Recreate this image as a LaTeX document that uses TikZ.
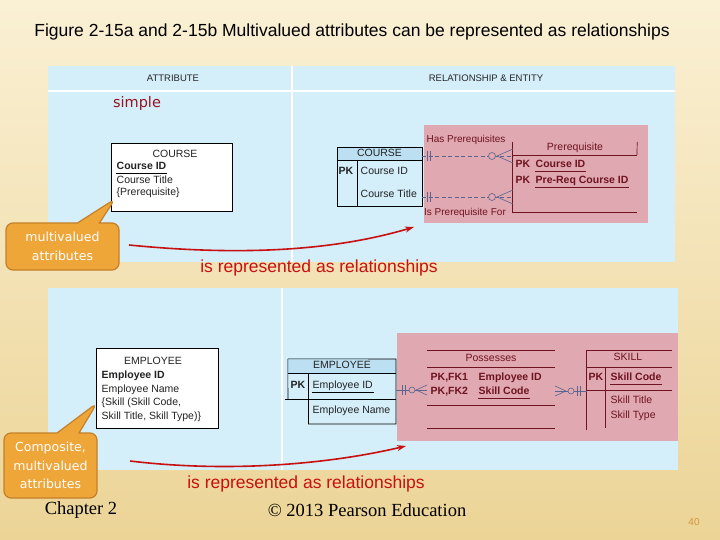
\documentclass[tikz,border=0pt]{standalone}
\usepackage{fontspec}
\setmainfont{Liberation Sans}
\newfontfamily\verdanafont{DejaVu Sans}
\newfontfamily\timesfont{Liberation Serif}
\usetikzlibrary{arrows.meta,shapes.callouts}

\definecolor{bgtop}{RGB}{250,240,212}
\definecolor{bgbottom}{RGB}{236,212,150}
\definecolor{paneblue}{RGB}{212,238,250}
\definecolor{hdrblue}{RGB}{188,224,242}
\definecolor{pinkarea}{RGB}{224,168,176}
\definecolor{pkred}{RGB}{110,20,32}
\definecolor{ergray}{RGB}{35,35,35}
\definecolor{simplered}{RGB}{150,20,30}
\definecolor{repred}{RGB}{200,16,16}
\definecolor{calloutorange}{RGB}{238,166,56}
\definecolor{calloutedge}{RGB}{196,128,40}
\definecolor{relblue}{RGB}{90,100,140}
\definecolor{pagetan}{RGB}{212,150,62}

\begin{document}
\begin{tikzpicture}[x=1pt,y=-1pt,
	titletext/.style={font=\fontsize{17.5}{20}\selectfont,text=black},
	hdr/.style={font=\fontsize{9.5}{11}\selectfont,text=black!85},
	simpletext/.style={font=\verdanafont\fontsize{14.5}{17}\selectfont,text=simplered},
	ertext/.style={font=\fontsize{10.5}{12}\selectfont,inner sep=0.5pt,text height=8pt,text depth=2.5pt,text=ergray},
	erbold/.style={ertext,font=\fontsize{10.5}{12}\selectfont\bfseries},
	pktext/.style={ertext,text=pkred},
	pkbold/.style={erbold,text=pkred},
	reltext/.style={font=\fontsize{10}{12}\selectfont,text=pkred},
	reptext/.style={font=\fontsize{17.5}{20}\selectfont,text=repred},
	attrbox/.style={draw=black,fill=white,line width=0.6pt},
	erline/.style={draw=black,line width=0.6pt},
	pkline/.style={draw=pkred,line width=0.7pt},
	uline/.style={line width=0.6pt},
	relline/.style={draw=relblue,line width=0.6pt},
	calloutbox/.style={rectangle callout,fill=calloutorange,draw=calloutedge,line width=1.2pt,rounded corners=7pt,text=white,align=center,font=\verdanafont\fontsize{12.5}{18.5}\selectfont,callout pointer width=22pt},
	redarrow/.style={draw=repred,line width=1.6pt,-{Stealth[length=9pt,width=6pt]}},
	footer/.style={font=\timesfont\fontsize{18.5}{20}\selectfont,text=black}
]
	\shade[top color=bgtop,bottom color=bgbottom] (0,0) rectangle (720,540);
	\useasboundingbox (0,0) rectangle (720,540);

	\node[titletext] (title) at (352,32) {Figure 2-15a and 2-15b Multivalued attributes can be represented as relationships};

	\fill[paneblue] (48,66) rectangle (675,262);
	\draw[white,line width=2pt] (292,66) -- (292,262);
	\draw[white,line width=2pt] (48,91) -- (675,91);
	\fill[paneblue] (48,288) rectangle (678,470);
	\draw[white,line width=2pt] (282,288) -- (282,470);
	\fill[pinkarea] (424,125) rectangle (648,223);
	\fill[pinkarea] (397,333) rectangle (678,441);

	\node[hdr] (hAttr) at (173,78) {ATTRIBUTE};
	\node[hdr] (hRel) at (486,78) {RELATIONSHIP \& ENTITY};
	\node[simpletext] (simple) at (137,104) {simple};

	\node[attrbox,minimum width=121pt,minimum height=68pt] (courseAttr) at (171.5,177) {};
	\node[ertext] (cAttrHead) at (175,155) {COURSE};
	\node[erbold,anchor=west] (cAttrId) at (116,167) {Course ID};
	\draw[uline] (cAttrId.south west) -- (cAttrId.south east);
	\node[ertext,anchor=west] (cAttrTitle) at (116,181) {Course Title};
	\node[ertext,anchor=west] (cAttrPre) at (116,193) {\{Prerequisite\}};

	\node[calloutbox,minimum width=113pt,minimum height=47pt,callout absolute pointer={(115,199)}] (callA) at (62.5,246.5) {multivalued\\attributes};

	\coordinate (arrA0) at (129,245);
	\coordinate (arrA1) at (414,227);
	\draw[redarrow] (arrA0) .. controls (250,257) and (340,249) .. (arrA1);
	\node[reptext] (repA) at (319,268) {is represented as relationships};

	\node (crsEnt) at (379.5,177) [minimum width=85pt,minimum height=58pt] {};
	\fill[hdrblue] (crsEnt.north west) rectangle (422,160);
	\draw[erline] (crsEnt.north west) rectangle (crsEnt.south east);
	\draw[erline] (337,160) -- (422,160);
	\draw[erline] (357,160) -- (357,206);
	\node[ertext] (crsHead) at (379.5,154) {COURSE};
	\node[erbold] (crsPk) at (346,172) {PK};
	\node[ertext,anchor=west] (crsId) at (360,172) {Course ID};
	\node[ertext,anchor=west] (crsTitle) at (360,195) {Course Title};

	\node (preEnt) at (575,177) [minimum width=124pt,minimum height=70pt] {};
	\draw[pkline] (preEnt.north west) -- (preEnt.south west) -- (preEnt.south east);
	\draw[pkline] (preEnt.north east) -- (637,155);
	\draw[pkline] (513,155) -- (637,155);
	\node[pktext] (preHead) at (575,148) {Prerequisite};
	\node[pkbold] (prePk1) at (523,165) {PK};
	\node[pkbold,anchor=west] (preId) at (535,165) {Course ID};
	\draw[pkline] (preId.south west) -- (preId.south east);
	\node[pkbold] (prePk2) at (523,181) {PK};
	\node[pkbold,anchor=west] (preReq) at (535,181) {Pre-Req Course ID};
	\draw[pkline] (preReq.south west) -- (preReq.south east);

	\coordinate (hasL) at (422,156);
	\coordinate (hasR) at (513,156);
	\draw[relline,dash pattern=on 4pt off 2.5pt] (hasL) -- (hasR);
	\draw[relline] (427,151) -- (427,161) (430,151) -- (430,161);
	\draw[relline,fill=pinkarea] (492,156) circle (3.5pt);
	\draw[relline] (497,156) -- (513,149) (497,156) -- (513,163);
	\node[reltext] (hasLbl) at (466,140) {Has Prerequisites};

	\coordinate (isL) at (422,197);
	\coordinate (isR) at (513,197);
	\draw[relline,dash pattern=on 4pt off 2.5pt] (isL) -- (isR);
	\draw[relline] (427,192) -- (427,202) (430,192) -- (430,202);
	\draw[relline,fill=pinkarea] (492,197) circle (3.5pt);
	\draw[relline] (497,197) -- (513,190) (497,197) -- (513,204);
	\node[reltext] (isLbl) at (465,213) {Is Prerequisite For};

	\node[attrbox,minimum width=122pt,minimum height=80pt] (empAttr) at (157,388) {};
	\node[ertext] (eAttrHead) at (153,362) {EMPLOYEE};
	\node[erbold,anchor=west] (eAttrId) at (101,376) {Employee ID};
	\node[ertext,anchor=west] (eAttrName) at (101,390) {Employee Name};
	\node[ertext,anchor=west] (eAttrSk1) at (101,403) {\{Skill (Skill Code,};
	\node[ertext,anchor=west] (eAttrSk2) at (101,417) {Skill Title, Skill Type)\}};

	\node[calloutbox,minimum width=93pt,minimum height=65pt,callout absolute pointer={(97,403)}] (callB) at (50.5,465.5) {Composite,\\multivalued\\attributes};

	\coordinate (arrB0) at (130,461);
	\coordinate (arrB1) at (406,446);
	\draw[redarrow] (arrB0) .. controls (230,473) and (330,464) .. (arrB1);
	\node[reptext] (repB) at (306,484) {is represented as relationships};

	\node (empEnt) at (342,391.5) [minimum width=108pt,minimum height=65pt] {};
	\fill[hdrblue] (empEnt.north west) rectangle (396,373);
	\draw[erline] (empEnt.north west) -- (396,359) -- (396,424) -- (308,424);
	\draw[erline] (empEnt.north west) -- (288,399);
	\draw[erline] (288,373) -- (396,373);
	\draw[erline] (308,373) -- (308,424);
	\draw[erline] (285,399) -- (396,399);
	\node[ertext] (empHead) at (342,366) {EMPLOYEE};
	\node[erbold] (empPk) at (298,386) {PK};
	\node[ertext,anchor=west] (empId) at (312,386) {Employee ID};
	\draw[uline] (empId.south west) -- (empId.south east);
	\node[ertext,anchor=west] (empName) at (312,411) {Employee Name};

	\node (posEnt) at (491,389.5) [minimum width=128pt,minimum height=77pt] {};
	\draw[pkline] (posEnt.north west) -- (posEnt.north east);
	\draw[pkline] (427,367) -- (555,367);
	\draw[pkline] (427,405) -- (555,405);
	\draw[pkline] (posEnt.south west) -- (posEnt.south east);
	\node[pktext] (posHead) at (491,359) {Possesses};
	\node[pkbold,anchor=west] (posPk1) at (430,378) {PK,FK1};
	\node[pkbold,anchor=west] (posEmp) at (478,378) {Employee ID};
	\node[pkbold,anchor=west] (posPk2) at (430,392) {PK,FK2};
	\node[pkbold,anchor=west] (posSkill) at (478,392) {Skill Code};
	\draw[pkline] (posSkill.south west) -- (posSkill.south east);

	\node (sklEnt) at (629.5,390.5) [minimum width=85pt,minimum height=79pt] {};
	\draw[pkline] (sklEnt.north east) -- (sklEnt.north west) -- (sklEnt.south west);
	\draw[pkline] (587,367) -- (672,367);
	\draw[pkline] (605,367) -- (605,428);
	\draw[pkline] (587,390) -- (672,390);
	\node[pktext] (sklHead) at (628,358) {SKILL};
	\node[pkbold] (sklPk) at (596,378) {PK};
	\node[pkbold,anchor=west] (sklCode) at (610,378) {Skill Code};
	\draw[pkline] (sklCode.south west) -- (sklCode.south east);
	\node[pktext,anchor=west] (sklTitle) at (610,401) {Skill Title};
	\node[pktext,anchor=west] (sklType) at (610,416) {Skill Type};

	\coordinate (posL0) at (396,390);
	\coordinate (posL1) at (427,390);
	\draw[relline] (posL0) -- (posL1);
	\draw[relline] (402,385) -- (402,395) (405,385) -- (405,395);
	\draw[relline,fill=pinkarea] (412,390) circle (3pt);
	\draw[relline] (416,390) -- (427,385) (416,390) -- (427,395);

	\coordinate (posR0) at (555,391);
	\coordinate (posR1) at (587,391);
	\draw[relline] (posR0) -- (posR1);
	\draw[relline] (566,391) -- (555,386) (566,391) -- (555,396);
	\draw[relline,fill=pinkarea] (571,391) circle (3pt);
	\draw[relline] (577,386) -- (577,396) (580,386) -- (580,396);

	\node[footer] (chap) at (81,510) {Chapter 2};
	\node[footer] (copy) at (367,510) {© 2013 Pearson Education};
	\node[font=\fontsize{10}{12}\selectfont,text=pagetan] (pageNo) at (694,522) {40};
\end{tikzpicture}
\end{document}
